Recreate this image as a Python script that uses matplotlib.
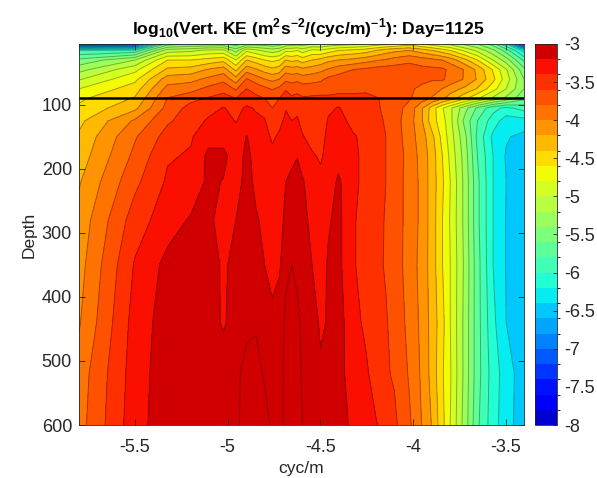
import numpy as np
import matplotlib
matplotlib.use('Agg')
import matplotlib.pyplot as plt
from matplotlib.colors import ListedColormap, BoundaryNorm
from matplotlib.cm import ScalarMappable

plt.rcParams['font.family'] = ['Liberation Sans', 'DejaVu Sans']
plt.rcParams['mathtext.fontset'] = 'custom'
plt.rcParams['mathtext.rm'] = 'Liberation Sans'
plt.rcParams['mathtext.bf'] = 'Liberation Sans:bold'
plt.rcParams['axes.unicode_minus'] = False

# wavenumber index, cyc/m is log10(index) - 5.8
mode = [1, 2, 3, 4, 5, 6, 7, 8, 9, 10, 11, 12, 13, 14, 15, 16, 18, 20, 22, 25, 30, 35, 40, 45, 50,
        60, 70, 80, 90, 100, 120, 140, 170, 200, 250]
depth = [5, 15, 30, 45, 60, 75, 90, 105, 125, 150, 180, 220, 280, 350, 440, 520, 600]
mixed_layer = 88.6

log_ke = [
    [-7.4, -7.2, -5.7, -5.6, -5.6, -5.55, -5.7, -5.5, -5.5, -5.5, -5.55, -5.5, -5.35, -5.3, -5.3, -5.3, -5.2, -5.2, -5.15, -5.1, -5.05, -5.0, -4.9, -4.85, -4.8, -4.7, -4.8, -4.9, -5.0, -5.05, -5.25, -5.4, -5.7, -6.2, -7.4],
    [-6.0, -5.95, -5.1, -5.05, -4.95, -4.95, -5.3, -4.85, -4.95, -5.05, -5.1, -5.05, -4.85, -4.85, -4.8, -4.9, -4.75, -4.78, -4.7, -4.6, -4.55, -4.5, -4.4, -4.3, -4.25, -4.2, -4.3, -4.4, -4.5, -4.6, -4.85, -5.05, -5.35, -5.7, -6.3],
    [-5.55, -5.2, -4.6, -4.6, -4.53, -4.46, -4.8, -4.4, -4.5, -4.6, -4.65, -4.6, -4.4, -4.45, -4.42, -4.5, -4.4, -4.34, -4.25, -4.2, -4.15, -4.08, -4.02, -3.98, -3.92, -3.84, -3.9, -3.95, -4.0, -4.1, -4.35, -4.6, -5.0, -5.3, -5.85],
    [-5.27, -4.86, -4.36, -4.32, -4.18, -4.1, -4.45, -4.08, -4.18, -4.28, -4.35, -4.3, -4.08, -4.12, -4.1, -4.15, -4.1, -4.05, -3.98, -3.88, -3.8, -3.76, -3.72, -3.7, -3.7, -3.72, -3.74, -3.75, -3.76, -3.84, -4.02, -4.25, -4.62, -4.98, -5.55],
    [-5.02, -4.65, -4.1, -4.06, -3.95, -3.86, -4.12, -3.78, -3.9, -4.0, -4.05, -4.0, -3.85, -3.88, -3.85, -3.9, -3.88, -3.84, -3.75, -3.72, -3.68, -3.65, -3.65, -3.64, -3.65, -3.72, -3.74, -3.78, -3.76, -3.88, -4.02, -4.22, -4.55, -4.9, -5.4],
    [-4.8, -4.5, -3.93, -3.88, -3.74, -3.66, -3.83, -3.6, -3.68, -3.75, -3.82, -3.75, -3.62, -3.68, -3.65, -3.7, -3.68, -3.68, -3.66, -3.64, -3.63, -3.63, -3.66, -3.68, -3.7, -3.76, -3.85, -3.92, -4.0, -4.1, -4.25, -4.42, -4.72, -5.0, -5.4],
    [-4.64, -4.38, -3.79, -3.66, -3.58, -3.53, -3.6, -3.5, -3.55, -3.6, -3.65, -3.6, -3.52, -3.57, -3.55, -3.58, -3.57, -3.56, -3.57, -3.56, -3.57, -3.56, -3.59, -3.63, -3.68, -3.78, -3.9, -4.02, -4.16, -4.3, -4.56, -4.78, -5.05, -5.25, -5.55],
    [-4.56, -4.25, -3.73, -3.53, -3.47, -3.39, -3.46, -3.37, -3.42, -3.44, -3.6, -3.48, -3.41, -3.46, -3.44, -3.5, -3.55, -3.58, -3.46, -3.38, -3.55, -3.55, -3.58, -3.63, -3.72, -3.86, -4.17, -4.5, -4.77, -4.96, -5.33, -5.64, -5.93, -6.05, -5.92],
    [-4.45, -3.97, -3.63, -3.5, -3.37, -3.33, -3.41, -3.32, -3.36, -3.39, -3.5, -3.45, -3.36, -3.4, -3.38, -3.45, -3.55, -3.6, -3.37, -3.33, -3.46, -3.5, -3.55, -3.62, -3.72, -3.9, -4.17, -4.52, -4.7, -4.94, -5.47, -5.8, -6.1, -6.3, -6.28],
    [-4.37, -3.82, -3.52, -3.42, -3.27, -3.27, -3.33, -3.19, -3.32, -3.33, -3.43, -3.37, -3.33, -3.35, -3.32, -3.39, -3.45, -3.5, -3.33, -3.28, -3.38, -3.45, -3.52, -3.6, -3.69, -3.9, -4.1, -4.35, -4.65, -4.9, -5.35, -5.85, -6.25, -6.38, -6.46],
    [-4.31, -3.75, -3.42, -3.38, -3.15, -3.15, -3.3, -3.15, -3.27, -3.28, -3.35, -3.35, -3.3, -3.25, -3.21, -3.3, -3.38, -3.42, -3.35, -3.27, -3.35, -3.46, -3.52, -3.6, -3.68, -3.87, -4.07, -4.3, -4.58, -4.85, -5.3, -5.8, -6.2, -6.42, -6.52],
    [-4.22, -3.65, -3.37, -3.32, -3.16, -3.21, -3.3, -3.12, -3.25, -3.3, -3.36, -3.32, -3.2, -3.15, -3.1, -3.18, -3.3, -3.36, -3.3, -3.17, -3.35, -3.46, -3.5, -3.6, -3.7, -3.87, -4.05, -4.3, -4.55, -4.8, -5.27, -5.75, -6.2, -6.4, -6.52],
    [-4.13, -3.5, -3.29, -3.18, -3.15, -3.3, -3.2, -3.1, -3.18, -3.24, -3.3, -3.28, -3.15, -3.1, -3.08, -3.14, -3.25, -3.32, -3.22, -3.15, -3.38, -3.47, -3.52, -3.62, -3.7, -3.87, -4.05, -4.3, -4.58, -4.82, -5.27, -5.75, -6.2, -6.41, -6.52],
    [-4.08, -3.38, -3.14, -3.08, -3.08, -3.24, -3.12, -3.06, -3.1, -3.2, -3.28, -3.24, -3.02, -3.0, -3.02, -3.04, -3.2, -3.28, -3.18, -3.15, -3.38, -3.48, -3.55, -3.62, -3.7, -3.88, -4.07, -4.3, -4.58, -4.8, -5.25, -5.72, -6.2, -6.41, -6.52],
    [-4.02, -3.32, -3.1, -3.06, -3.06, -3.24, -3.05, -3.02, -3.01, -3.05, -3.14, -3.05, -2.98, -2.97, -2.98, -3.02, -3.08, -3.24, -3.18, -3.12, -3.33, -3.44, -3.52, -3.58, -3.68, -3.85, -4.05, -4.28, -4.52, -4.8, -5.27, -5.72, -6.15, -6.4, -6.5],
    [-3.91, -3.3, -3.08, -3.04, -3.04, -3.02, -3.02, -2.97, -2.97, -3.01, -3.03, -3.03, -2.98, -2.97, -2.97, -3.01, -3.03, -3.16, -3.12, -3.15, -3.27, -3.36, -3.5, -3.58, -3.62, -3.82, -4.03, -4.28, -4.56, -4.78, -5.27, -5.72, -6.1, -6.3, -6.52],
    [-3.88, -3.28, -3.08, -3.05, -3.05, -3.02, -3.02, -2.96, -2.96, -2.97, -3.02, -3.03, -2.98, -2.97, -2.97, -3.0, -3.03, -3.05, -3.08, -3.12, -3.24, -3.3, -3.39, -3.48, -3.56, -3.76, -4.0, -4.22, -4.52, -4.8, -5.3, -5.76, -6.12, -6.32, -6.52],
]

x = np.log10(mode) - 5.8
z = np.array(log_ke)

# 25 bands, taken from the middle of jet so the end colours stay bright
levels = np.round(np.arange(-8, -2.99, 0.2), 1)
band_colors = plt.cm.jet(0.5 + (np.arange(25) - 12) / 28)
cmap = ListedColormap(band_colors)
cmap.set_over(band_colors[-1])
norm = BoundaryNorm(levels, 25)

fig = plt.figure(figsize=(5.97, 4.78), dpi=100)
ax = fig.add_axes([79 / 597, 53 / 478, 445 / 597, 381 / 478])
cax = fig.add_axes([535 / 597, 53 / 478, 22 / 597, 381 / 478])

ax.contourf(x, depth, z, levels=levels, cmap=cmap, norm=norm, extend='max')
ax.contour(x, depth, z, levels=levels, colors='k', linewidths=0.7, alpha=0.33, linestyles='solid')
ax.axhline(mixed_layer, color='k', lw=1.8)

ax.set_xlim(-5.8, -3.403)
ax.set_ylim(600, 5)
ax.set_xticks([-5.5, -5, -4.5, -4, -3.5])
ax.set_xticklabels(['-5.5', '-5', '-4.5', '-4', '-3.5'])
ax.set_yticks([100, 200, 300, 400, 500, 600])
ax.tick_params(direction='in', top=True, right=True, length=4, width=0.6, color='#262626',
               labelsize=13, labelcolor='#262626', pad=5)
ax.tick_params(axis='x', pad=10)
for s in ax.spines.values():
    s.set_linewidth(0.6)
    s.set_color('#262626')
ax.set_xlabel('cyc/m', fontsize=12.5, color='#262626', labelpad=4)
ax.set_ylabel('Depth', fontsize=12.5, color='#262626', labelpad=4)
ax.set_title(r'log$_{\mathbf{10}}$(Vert. KE (m$^{\mathbf{2}}$s$^{\mathbf{-2}}$/(cyc/m)$^{\mathbf{-1}}$): Day=1125',
             fontsize=12.6, fontweight='bold', pad=7, color='k', x=0.516)

cb = fig.colorbar(ScalarMappable(norm=norm, cmap=cmap), cax=cax, spacing='proportional')
cb.set_ticks(np.arange(-8, -2.9, 0.5))
cb.set_ticklabels(['-8', '-7.5', '-7', '-6.5', '-6', '-5.5', '-5', '-4.5', '-4', '-3.5', '-3'])
cb.ax.tick_params(direction='in', length=3, width=0.6, color='#262626', labelsize=13,
                  labelcolor='#262626', pad=5)
cb.outline.set_linewidth(0.6)
cb.outline.set_edgecolor('#262626')

fig.savefig('out.png', dpi=100)
